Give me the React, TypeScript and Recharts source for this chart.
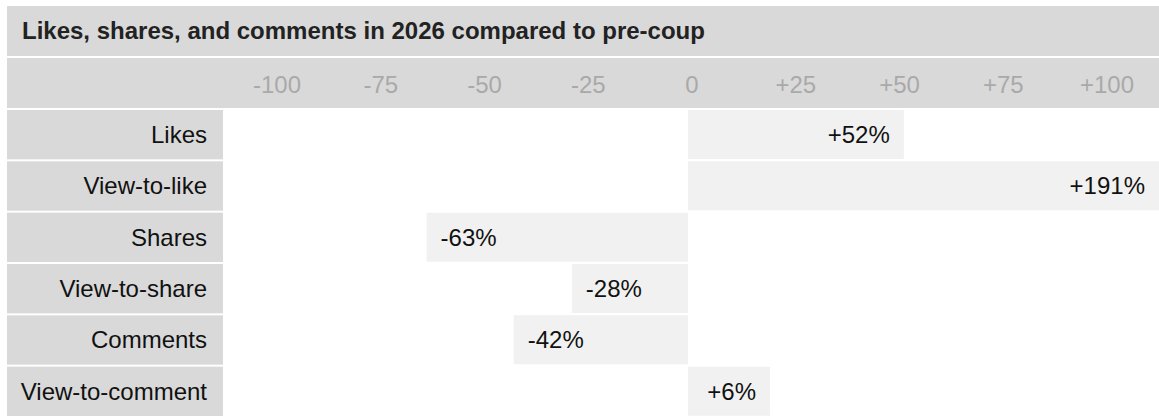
import React from 'react';
import { BarChart, Bar, XAxis, YAxis, LabelList } from 'recharts';

const metrics = ['Likes', 'View-to-like', 'Shares', 'View-to-share', 'Comments', 'View-to-comment'];
const changePct = [52, 191, -63, -28, -42, 6];
const axisTicks = [-100, -75, -50, -25, 0, 25, 50, 75, 100];
const axisDomain = [-111.57, 113.49];

const data = metrics.map((name, i) => ({ name, change: changePct[i] }));

const FONT = 'Helvetica, Arial, "Liberation Sans", sans-serif';
const CHART_W = 1152;
const CHART_H = 359;
const HEADER_H = 50;
const LABEL_W = 218;
const ROW_H = (CHART_H - HEADER_H - 1) / metrics.length;

const signed = (v: number) => (v > 0 ? `+${v}` : `${v}`);

const AxisTick = (props: any) => {
  const { x, y, payload } = props;
  return (
    <text x={x + 4} y={y - 16} textAnchor="middle" fill="#a9a9a9" fontSize={24} fontFamily={FONT}>
      {signed(payload.value)}
    </text>
  );
};

const RowLabel = (props: any) => {
  const { x, y, payload } = props;
  return (
    <g>
      <rect x={x - LABEL_W} y={y - (ROW_H - 2) / 2} width={LABEL_W - 2} height={ROW_H - 2} fill="#d9d9d9" />
      <text x={x - 18} y={y} dy="0.35em" textAnchor="end" fill="#111" fontSize={24} fontFamily={FONT}>
        {payload.value}
      </text>
    </g>
  );
};

const ValueLabel = (props: any) => {
  const vb = props.viewBox ?? props;
  const { x, y, width, height } = vb;
  const value = props.value as number;
  const left = Math.min(x, x + width);
  const right = Math.min(Math.max(x, x + width), CHART_W);
  const pos = value >= 0;
  return (
    <text
      x={pos ? right - 14 : left + 14}
      y={y + height / 2}
      dy="0.35em"
      textAnchor={pos ? 'end' : 'start'}
      fill="#111"
      fontSize={24}
      fontFamily={FONT}
    >
      {signed(value)}%
    </text>
  );
};

export default function App() {
  return (
    <div style={{ position: 'absolute', left: 0, top: 0, width: 1159, height: 417, fontFamily: FONT }}>
      <div
        style={{
          position: 'absolute',
          left: 7,
          top: 6,
          width: CHART_W,
          height: 50,
          lineHeight: '50px',
          background: '#d9d9d9',
          color: '#222',
          fontWeight: 'bold',
          fontSize: 24,
          paddingLeft: 15,
          boxSizing: 'border-box',
          whiteSpace: 'nowrap',
        }}
      >
        Likes, shares, and comments in 2026 compared to pre-coup
      </div>
      <div style={{ position: 'absolute', left: 7, top: 58, width: CHART_W, height: HEADER_H, background: '#d9d9d9' }} />
      <div style={{ position: 'absolute', left: 7, top: 58 }}>
        <BarChart
          width={CHART_W}
          height={CHART_H}
          data={data}
          layout="vertical"
          margin={{ top: 1, right: 0, bottom: 0, left: 0 }}
          barCategoryGap={1}
        >
          <XAxis
            type="number"
            orientation="top"
            domain={axisDomain}
            allowDataOverflow
            ticks={axisTicks}
            height={HEADER_H}
            tickSize={0}
            tickMargin={0}
            axisLine={false}
            tickLine={false}
            tick={AxisTick}
            interval={0}
          />
          <YAxis
            type="category"
            dataKey="name"
            width={LABEL_W}
            tickSize={0}
            tickMargin={0}
            axisLine={false}
            tickLine={false}
            tick={RowLabel}
            interval={0}
          />
          <Bar dataKey="change" fill="#f1f1f1" isAnimationActive={false} minPointSize={82}>
            <LabelList dataKey="change" content={ValueLabel} />
          </Bar>
        </BarChart>
      </div>
    </div>
  );
}
